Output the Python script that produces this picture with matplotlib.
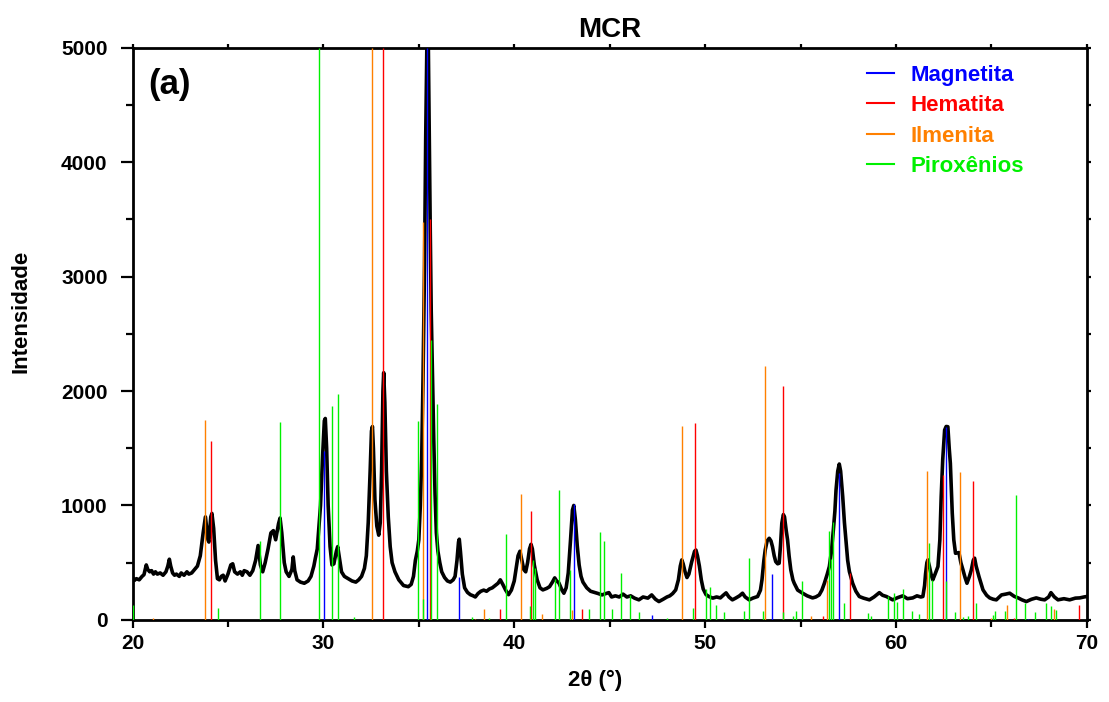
import matplotlib
matplotlib.use('Agg')
import matplotlib.pyplot as plt
from matplotlib.lines import Line2D

plt.rcParams['font.family'] = ['Liberation Sans', 'DejaVu Sans']
plt.rcParams['font.weight'] = 'bold'

two_theta = [20.0, 20.1, 20.2, 20.35, 20.5, 20.6, 20.72, 20.8, 20.9, 21.0, 21.1, 21.2, 21.3, 21.45,
             21.6, 21.75, 21.85, 21.93, 22.0, 22.1, 22.2, 22.3, 22.45, 22.55, 22.7, 22.85, 22.95,
             23.1, 23.25, 23.4, 23.55, 23.7, 23.82, 23.95, 24.0, 24.1, 24.16, 24.25, 24.35, 24.45,
             24.55, 24.65, 24.75, 24.85, 25.0, 25.15, 25.25, 25.35, 25.5, 25.65, 25.75, 25.85,
             26.0, 26.15, 26.3, 26.45, 26.58, 26.7, 26.82, 26.95, 27.1, 27.25, 27.38, 27.5, 27.65,
             27.73, 27.82, 27.95, 28.05, 28.2, 28.35, 28.42, 28.5, 28.62, 28.8, 29.0, 29.2, 29.35,
             29.5, 29.58, 29.68, 29.75, 29.85, 29.95, 30.05, 30.1, 30.17, 30.25, 30.35, 30.45,
             30.55, 30.68, 30.75, 30.85, 30.95, 31.1, 31.3, 31.5, 31.7, 31.85, 32.0, 32.15, 32.25,
             32.35, 32.45, 32.52, 32.57, 32.62, 32.7, 32.8, 32.9, 32.98, 33.05, 33.12, 33.16,
             33.22, 33.3, 33.4, 33.5, 33.6, 33.75, 33.95, 34.2, 34.45, 34.6, 34.72, 34.82, 34.92,
             35.0, 35.08, 35.15, 35.22, 35.3, 35.36, 35.42, 35.46, 35.5, 35.55, 35.6, 35.65,
             35.72, 35.78, 35.85, 35.92, 36.0, 36.1, 36.2, 36.35, 36.5, 36.65, 36.8, 36.9, 37.0,
             37.08, 37.12, 37.18, 37.28, 37.4, 37.55, 37.7, 37.85, 37.96, 38.1, 38.25, 38.4,
             38.55, 38.7, 38.85, 39.0, 39.15, 39.27, 39.4, 39.55, 39.7, 39.85, 40.0, 40.1, 40.2,
             40.3, 40.4, 40.5, 40.6, 40.7, 40.8, 40.88, 40.95, 41.05, 41.2, 41.35, 41.5, 41.7,
             41.85, 42.0, 42.12, 42.22, 42.34, 42.5, 42.6, 42.72, 42.83, 42.95, 43.05, 43.12,
             43.2, 43.3, 43.4, 43.5, 43.6, 43.8, 44.0, 44.2, 44.4, 44.6, 44.8, 44.96, 45.1, 45.3,
             45.5, 45.7, 45.9, 46.1, 46.3, 46.53, 46.75, 47.0, 47.2, 47.4, 47.58, 47.8, 48.0,
             48.15, 48.3, 48.46, 48.6, 48.7, 48.78, 48.85, 48.95, 49.05, 49.15, 49.3, 49.45,
             49.52, 49.6, 49.7, 49.8, 49.9, 50.05, 50.2, 50.4, 50.6, 50.8, 50.95, 51.1, 51.25,
             51.43, 51.6, 51.8, 51.96, 52.1, 52.31, 52.5, 52.75, 52.9, 52.98, 53.08, 53.15, 53.25,
             53.36, 53.45, 53.53, 53.62, 53.7, 53.8, 53.88, 53.95, 54.02, 54.1, 54.16, 54.25,
             54.32, 54.4, 54.49, 54.6, 54.67, 54.85, 55.11, 55.35, 55.63, 55.8, 55.98, 56.12,
             56.25, 56.4, 56.51, 56.62, 56.72, 56.8, 56.86, 56.95, 57.03, 57.1, 57.21, 57.3,
             57.38, 57.47, 57.56, 57.73, 57.9, 58.08, 58.3, 58.61, 58.85, 59.13, 59.3, 59.5,
             59.83, 60.1, 60.36, 60.6, 60.88, 61.1, 61.3, 61.41, 61.5, 61.55, 61.62, 61.67,
             61.75, 61.85, 61.93, 62.05, 62.2, 62.3, 62.37, 62.45, 62.55, 62.63, 62.72, 62.79,
             62.85, 62.95, 63.03, 63.12, 63.3, 63.4, 63.51, 63.62, 63.72, 63.85, 63.95, 64.05,
             64.12, 64.2, 64.35, 64.56, 64.75, 64.91, 65.1, 65.26, 65.53, 65.75, 65.96, 66.2,
             66.4, 66.6, 66.83, 67.1, 67.35, 67.6, 67.79, 68.0, 68.12, 68.3, 68.49, 68.8, 69.1,
             69.4, 69.63, 69.85, 70.0]
counts = [370, 345, 360, 350, 380, 395, 480, 440, 420, 430, 400, 420, 400, 410,
          390, 420, 470, 530, 470, 410, 390, 400, 380, 410, 390, 420, 400,
          410, 440, 470, 560, 760, 900, 700, 680, 900, 930, 800, 520, 360,
          350, 380, 390, 340, 400, 480, 490, 420, 400, 420, 390, 430,
          420, 390, 430, 520, 650, 480, 420, 500, 620, 760, 780, 700, 840,
          890, 760, 500, 420, 380, 440, 550, 430, 350, 330, 320, 340, 380,
          470, 540, 620, 780, 1000, 1400, 1740, 1760, 1500, 1000, 640, 480,
          490, 600, 640, 530, 420, 380, 360, 340, 330, 350, 380, 450, 560,
          850, 1300, 1650, 1690, 1500, 1050, 820, 740, 850, 1300, 2000, 2160,
          1900, 1300, 900, 640, 500, 420, 350, 300, 290, 310, 380, 520, 600,
          700, 1000, 1400, 2100, 3100, 4200, 5000, 5100, 5000, 4200, 3400, 2700,
          2100, 1600, 1100, 760, 600, 500, 420, 370, 340, 330, 350, 380, 520,
          680, 705, 600, 400, 280, 240, 220, 210, 200, 230, 250, 260,
          250, 270, 280, 300, 320, 350, 310, 260, 220, 260, 340, 450, 560,
          600, 520, 440, 420, 500, 620, 660, 620, 480, 350, 280, 262, 275,
          290, 330, 367, 340, 323, 260, 233, 280, 410, 700, 960, 1000,
          880, 650, 480, 380, 330, 280, 250, 240, 230, 218, 230, 238, 200, 210,
          200, 225, 200, 210, 190, 175, 200, 190, 218, 180, 160, 180, 200,
          210, 230, 262, 350, 470, 524, 490, 420, 370, 400, 509, 600,
          610, 560, 470, 350, 270, 220, 204, 190, 200, 192, 215, 236, 200,
          175, 190, 210, 233, 200, 175, 190, 204, 260, 350, 520, 611, 690,
          713, 690, 640, 560, 509, 490, 495, 650, 845, 920, 900, 780,
          700, 560, 437, 350, 320, 260, 233, 210, 192, 200, 218, 260,
          320, 400, 466, 600, 786, 950, 1135, 1300, 1362, 1300, 1077, 850,
          699, 520, 422, 320, 250, 204, 190, 175, 200, 238, 215, 204,
          175, 195, 210, 185, 192, 210, 200, 204, 300, 400, 500, 524,
          470, 390, 350, 400, 466, 700, 1077, 1400, 1659, 1690, 1688, 1500,
          1368, 932, 700, 582, 588, 500, 437, 370, 320, 380, 437, 520,
          539, 470, 378, 262, 215, 192, 180, 175, 218, 225, 233, 205,
          192, 175, 160, 180, 192, 180, 175, 200, 238, 200, 175, 185, 175,
          190, 192, 200, 204]

# reference patterns (position, intensity)
magnetita_pos = [30.05, 35.44, 37.09, 43.11, 47.2, 53.5, 57.03, 62.63, 66.9]
magnetita_int = [1476, 5000, 378, 1013, 40, 402, 1287, 1688, 10]

hematita_pos = [24.1, 33.13, 35.6, 39.24, 40.87, 43.53, 49.47, 54.06, 56.19, 57.6,
                62.46, 64.05, 66.2, 69.59]
hematita_int = [1563, 5000, 3500, 99, 955, 96, 1718, 2044, 30, 408,
                1266, 1217, 15, 131]

ilmenita_pos = [21.08, 23.79, 32.55, 35.23, 37.93, 38.42, 40.33, 41.43, 43.0, 48.78,
                53.13, 55.55, 56.37, 61.62, 63.33, 65.0, 65.84, 68.3]
ilmenita_int = [20, 1747, 5000, 3479, 10, 96, 1100, 50, 87, 1694,
                2220, 35, 350, 1301, 1296, 15, 131, 99]

piroxenios_pos = [20.0, 24.49, 26.69, 27.71, 29.77, 30.46, 30.79, 31.59, 34.95, 35.21,
                  35.62, 35.97, 37.79, 38.66, 39.55, 40.8, 40.97, 41.1, 42.11, 42.35,
                  42.9, 43.9, 44.47, 44.7, 45.12, 45.61, 46.06, 46.54, 48.0, 49.35,
                  50.03, 50.25, 50.56, 50.98, 52.03, 52.29, 53.04, 54.1, 54.6, 54.76,
                  55.08, 56.51, 56.61, 56.72, 57.28, 58.52, 58.7, 59.6, 59.88, 60.08,
                  60.36, 60.85, 61.23, 61.71, 61.9, 62.6, 63.1, 63.5, 63.8, 64.2,
                  65.1, 65.2, 65.71, 66.31, 66.74, 67.31, 67.88, 68.12, 68.41]
piroxenios_int = [131, 107, 690, 1729, 5000, 1869, 1974, 26, 1738, 183,
                  2450, 1887, 25, 15, 751, 117, 520, 450, 356, 1135,
                  437, 96, 771, 693, 96, 413, 218, 67, 20, 105,
                  268, 288, 131, 70, 79, 541, 76, 70, 30, 76,
                  341, 780, 533, 853, 151, 60, 30, 210, 233, 160,
                  268, 79, 50, 670, 350, 341, 70, 25, 30, 151,
                  40, 79, 79, 1092, 151, 70, 145, 122, 87]

fig = plt.figure(figsize=(11.09, 7.02), dpi=100)
ax = fig.add_axes([0.1195, 0.117, 0.8605, 0.815])

ax.plot(two_theta, counts, color='black', linewidth=2.6, zorder=2)

phases = [('Magnetita', magnetita_pos, magnetita_int, '#0000ff'),
          ('Hematita', hematita_pos, hematita_int, '#ff0000'),
          ('Ilmenita', ilmenita_pos, ilmenita_int, '#ff8000'),
          ('Piroxênios', piroxenios_pos, piroxenios_int, '#00f000')]
for name, pos, inten, col in phases:
    ax.vlines(pos, 0, inten, colors=col, linewidth=1.0, zorder=3)

ax.set_xlim(20, 70)
ax.set_ylim(0, 5000)
ax.set_xticks([20, 30, 40, 50, 60, 70])
ax.set_xticks([25, 35, 45, 55, 65], minor=True)
ax.set_yticks([0, 1000, 2000, 3000, 4000, 5000])
ax.set_yticks([500, 1500, 2500, 3500, 4500], minor=True)
ax.tick_params(which='both', direction='out', width=1.6)
ax.tick_params(axis='x', which='major', length=6, labelsize=15, pad=4)
ax.tick_params(axis='y', which='major', length=9, labelsize=15, pad=9)
ax.tick_params(which='minor', length=5)
# short ticks on the opposite sides
ax.tick_params(which='both', top=True, right=True)
for t in ax.xaxis.get_major_ticks() + ax.xaxis.get_minor_ticks():
    t.tick2line.set_markersize(3)
for t in ax.yaxis.get_major_ticks() + ax.yaxis.get_minor_ticks():
    t.tick2line.set_markersize(3)
for lab in ax.get_xticklabels() + ax.get_yticklabels():
    lab.set_fontweight('bold')
for s in ax.spines.values():
    s.set_linewidth(2.0)

ax.set_xlabel('2θ (°)', fontsize=16, fontweight='bold')
ax.set_ylabel('Intensidade', fontsize=16, fontweight='bold')
ax.xaxis.set_label_coords(0.485, -0.088)
ax.yaxis.set_label_coords(-0.106, 0.54)
ax.set_title('MCR', fontsize=20, fontweight='bold', pad=8)
ax.text(0.017, 0.965, '(a)', transform=ax.transAxes, fontsize=25, fontweight='bold',
        va='top', ha='left')

handles = [Line2D([0], [0], color=c, linewidth=1.5) for _, _, _, c in phases]
labels = [p[0] for p in phases]
leg = ax.legend(handles, labels, loc='upper left', bbox_to_anchor=(0.77, 0.97),
                frameon=False, handlelength=1.2, handletextpad=0.75,
                labelspacing=0.42, borderpad=0, borderaxespad=0,
                prop={'size': 16, 'weight': 'bold'})
for t, (_, _, _, c) in zip(leg.get_texts(), phases):
    t.set_color(c)

fig.savefig('out.png', dpi=100)
